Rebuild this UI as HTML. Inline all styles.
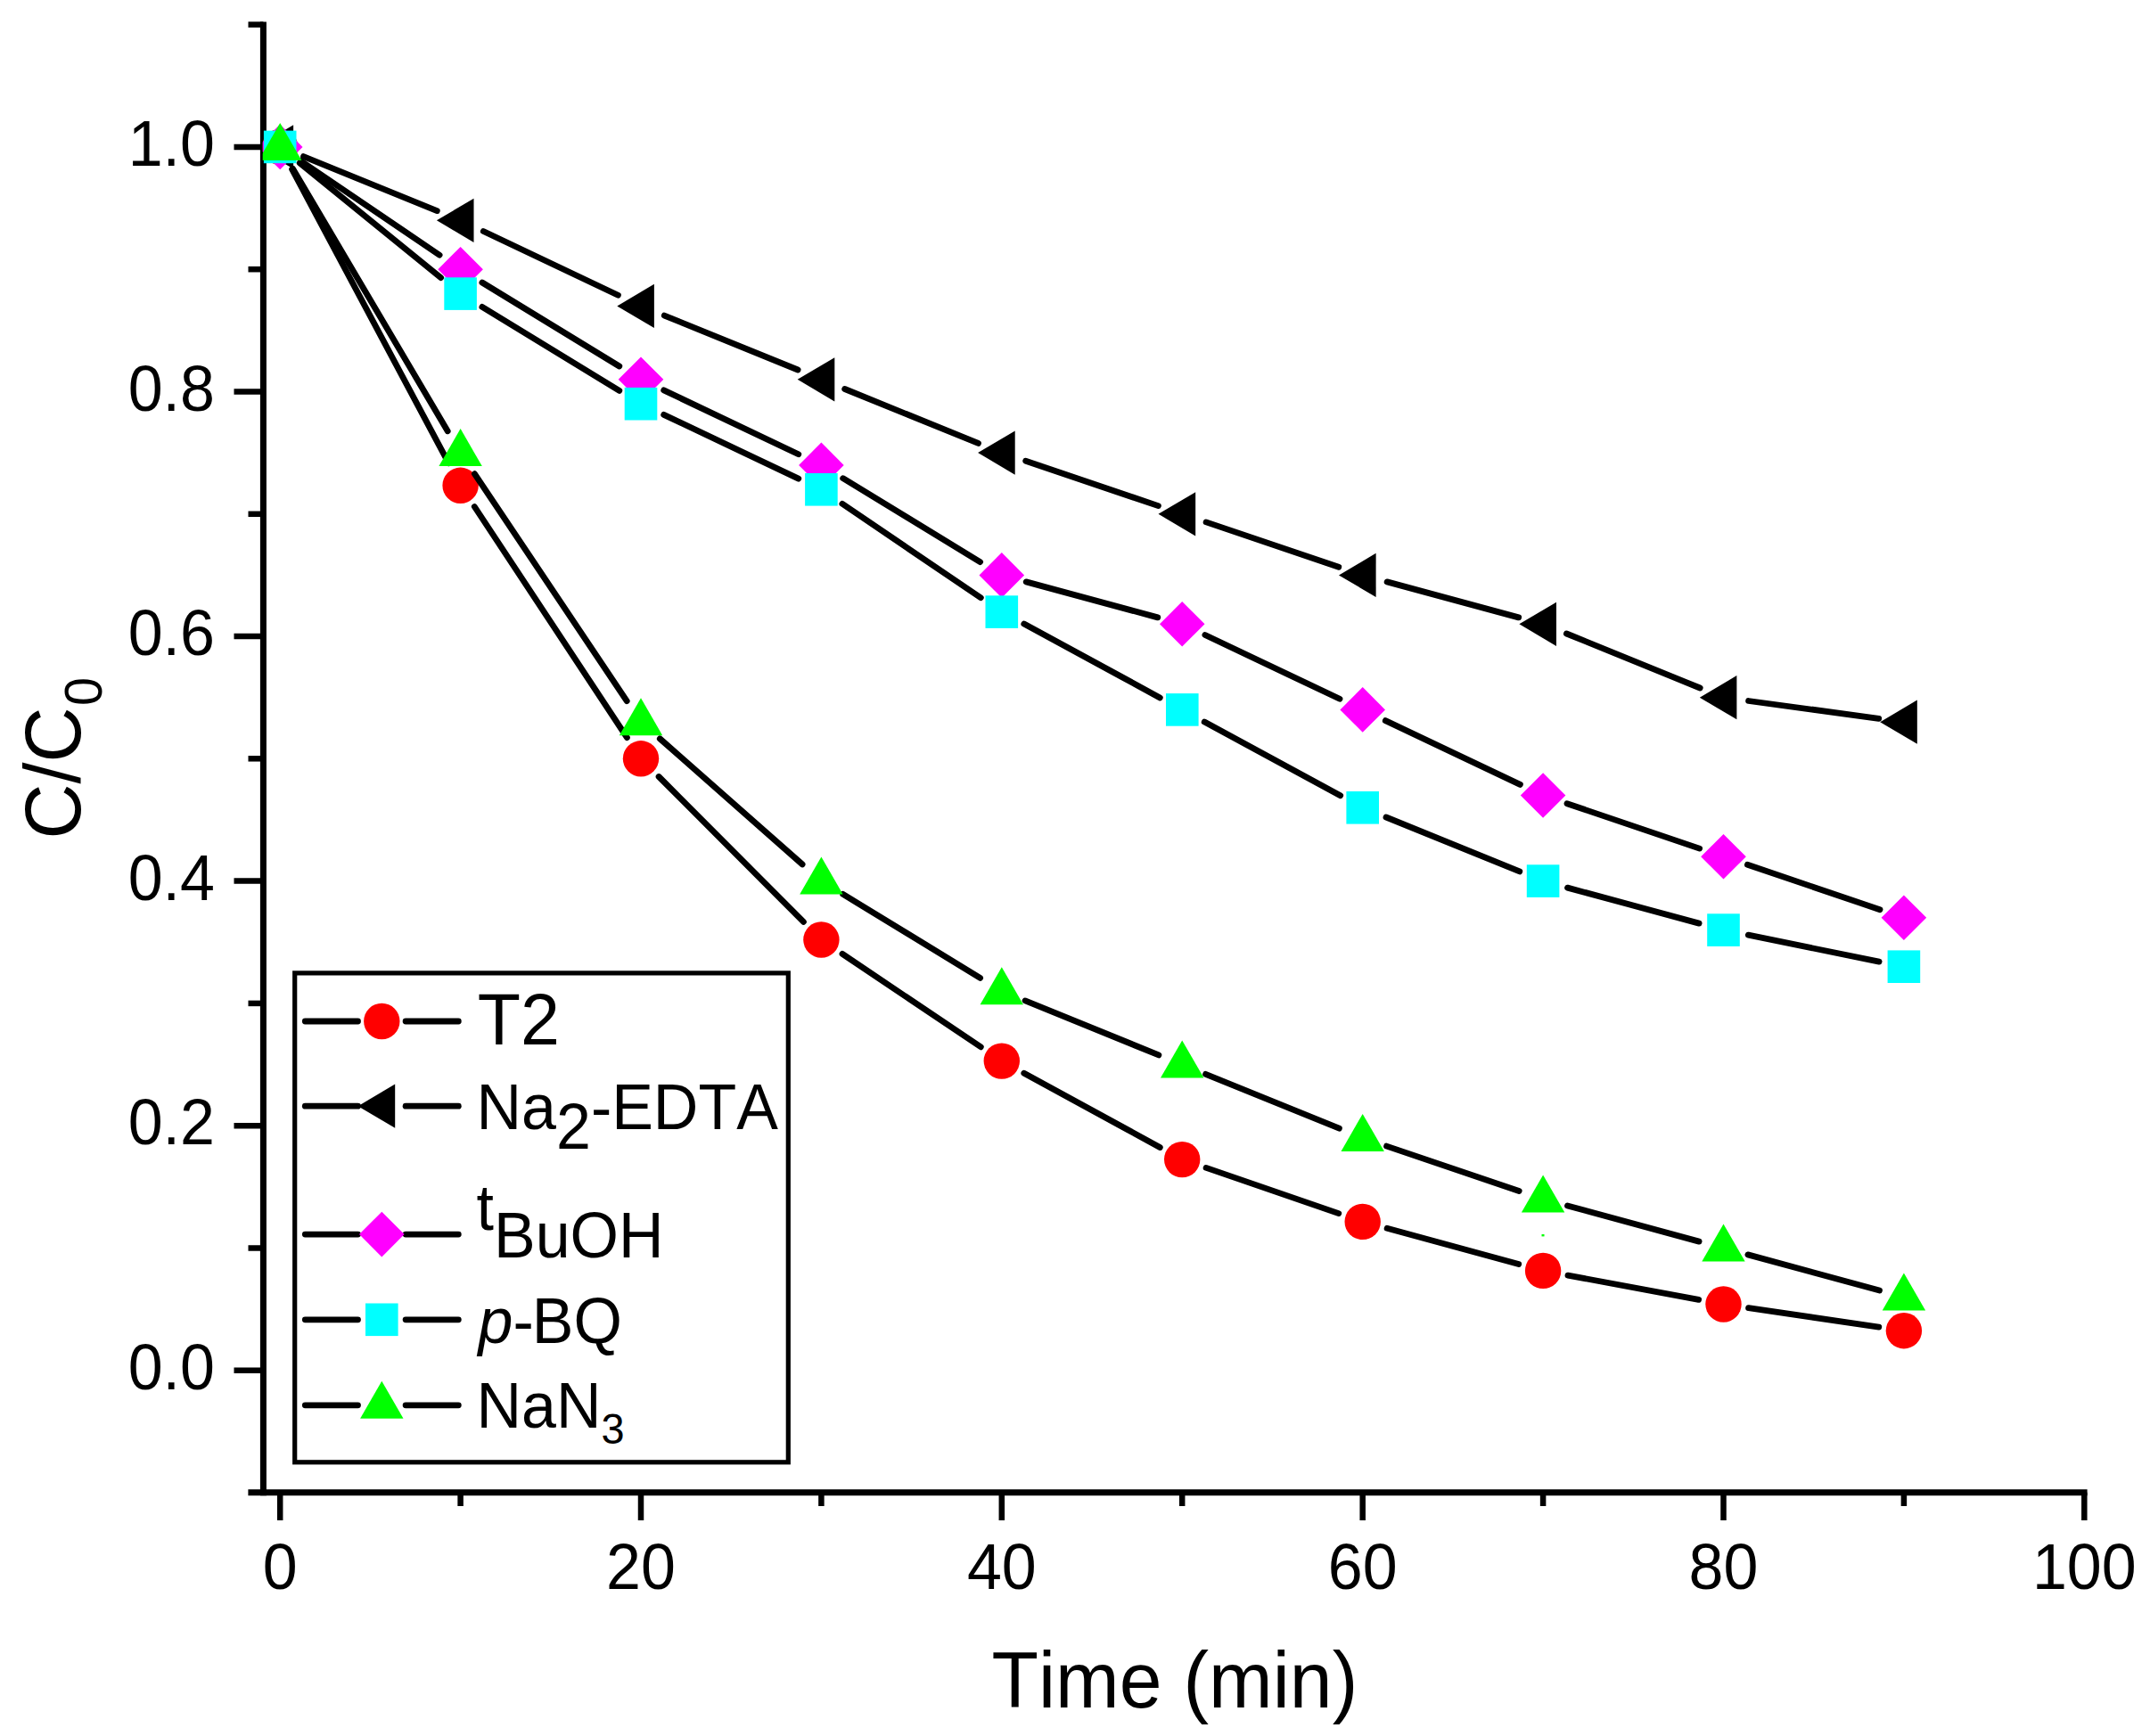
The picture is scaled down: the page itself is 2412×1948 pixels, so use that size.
<!DOCTYPE html>
<html><head><meta charset="utf-8"><title>C/C0 vs Time</title>
<style>
html,body{margin:0;padding:0;background:#fff;}
body{width:2412px;height:1948px;overflow:hidden;}
svg{display:block;}
text{font-family:"Liberation Sans",Arial,sans-serif;fill:#000;font-kerning:none;}
</style></head><body>
<svg width="2412" height="1948" viewBox="0 0 2412 1948">
<rect width="2412" height="1948" fill="#fff"/>
<g stroke="#000" stroke-width="7.0" fill="none" stroke-linecap="butt">
<line x1="295.4" y1="24.4" x2="295.4" y2="1678.2"/>
<line x1="278.4" y1="1674.7" x2="2341.6" y2="1674.7"/>
</g>
<g stroke="#000" stroke-width="6.5" fill="none" stroke-linecap="butt">
<line x1="262.5" y1="1537.8" x2="295.4" y2="1537.8"/>
<line x1="262.5" y1="1263.2" x2="295.4" y2="1263.2"/>
<line x1="262.5" y1="988.6" x2="295.4" y2="988.6"/>
<line x1="262.5" y1="714.1" x2="295.4" y2="714.1"/>
<line x1="262.5" y1="439.5" x2="295.4" y2="439.5"/>
<line x1="262.5" y1="164.9" x2="295.4" y2="164.9"/>
<line x1="278.5" y1="1400.5" x2="295.4" y2="1400.5"/>
<line x1="278.5" y1="1125.9" x2="295.4" y2="1125.9"/>
<line x1="278.5" y1="851.3" x2="295.4" y2="851.3"/>
<line x1="278.5" y1="576.8" x2="295.4" y2="576.8"/>
<line x1="278.5" y1="302.2" x2="295.4" y2="302.2"/>
<line x1="278.5" y1="27.6" x2="295.4" y2="27.6"/>
<line x1="314.2" y1="1674.7" x2="314.2" y2="1706"/>
<line x1="719.0" y1="1674.7" x2="719.0" y2="1706"/>
<line x1="1123.8" y1="1674.7" x2="1123.8" y2="1706"/>
<line x1="1528.7" y1="1674.7" x2="1528.7" y2="1706"/>
<line x1="1933.5" y1="1674.7" x2="1933.5" y2="1706"/>
<line x1="2338.3" y1="1674.7" x2="2338.3" y2="1706"/>
<line x1="516.6" y1="1674.7" x2="516.6" y2="1690"/>
<line x1="921.4" y1="1674.7" x2="921.4" y2="1690"/>
<line x1="1326.2" y1="1674.7" x2="1326.2" y2="1690"/>
<line x1="1731.1" y1="1674.7" x2="1731.1" y2="1690"/>
<line x1="2135.9" y1="1674.7" x2="2135.9" y2="1690"/>
</g>
<g font-size="70">
<text transform="translate(241,1558.8) scale(1,1.035)" text-anchor="end">0.0</text>
<text transform="translate(241,1284.2) scale(1,1.035)" text-anchor="end">0.2</text>
<text transform="translate(241,1009.6) scale(1,1.035)" text-anchor="end">0.4</text>
<text transform="translate(241,735.1) scale(1,1.035)" text-anchor="end">0.6</text>
<text transform="translate(241,460.5) scale(1,1.035)" text-anchor="end">0.8</text>
<text transform="translate(241,185.9) scale(1,1.035)" text-anchor="end">1.0</text>
<text transform="translate(314.2,1782.5) scale(1,1.035)" text-anchor="middle">0</text>
<text transform="translate(719.0,1782.5) scale(1,1.035)" text-anchor="middle">20</text>
<text transform="translate(1123.8,1782.5) scale(1,1.035)" text-anchor="middle">40</text>
<text transform="translate(1528.7,1782.5) scale(1,1.035)" text-anchor="middle">60</text>
<text transform="translate(1933.5,1782.5) scale(1,1.035)" text-anchor="middle">80</text>
<text transform="translate(2338.3,1782.5) scale(1,1.035)" text-anchor="middle">100</text>
</g>
<text transform="translate(1112.5,1915.5) scale(1,1.035)" font-size="86">Time (min)</text>
<text transform="translate(89.6,941.5) rotate(-90) scale(1,1.035)" font-size="86">C/C<tspan font-size="57.6" dx="1.4" dy="23.7">0</tspan></text>
<defs><clipPath id="plotclip"><rect x="294.7" y="24" width="2044" height="1650.7"/></clipPath></defs>
<g clip-path="url(#plotclip)">
<g stroke="#000" stroke-width="6.8" stroke-linecap="round">
<line x1="327.6" y1="190.0" x2="503.3" y2="519.7"/>
<line x1="532.3" y1="568.5" x2="703.4" y2="827.6"/>
<line x1="739.1" y1="871.5" x2="901.4" y2="1034.4"/>
<line x1="945.0" y1="1070.4" x2="1100.3" y2="1174.8"/>
<line x1="1148.8" y1="1204.2" x2="1301.3" y2="1287.5"/>
<line x1="1353.1" y1="1310.4" x2="1501.8" y2="1361.6"/>
<line x1="1556.1" y1="1378.3" x2="1703.7" y2="1418.5"/>
<line x1="1759.0" y1="1431.1" x2="1905.6" y2="1458.3"/>
<line x1="1961.6" y1="1467.6" x2="2107.8" y2="1489.1"/>
</g>
<g><circle cx="314.2" cy="164.9" r="20.2" fill="#ff0000"/><circle cx="516.6" cy="544.8" r="20.2" fill="#ff0000"/><circle cx="719.0" cy="851.3" r="20.2" fill="#ff0000"/><circle cx="921.4" cy="1054.5" r="20.2" fill="#ff0000"/><circle cx="1123.8" cy="1190.6" r="20.2" fill="#ff0000"/><circle cx="1326.2" cy="1301.1" r="20.2" fill="#ff0000"/><circle cx="1528.7" cy="1370.9" r="20.2" fill="#ff0000"/><circle cx="1731.1" cy="1425.9" r="20.2" fill="#ff0000"/><circle cx="1933.5" cy="1463.5" r="20.2" fill="#ff0000"/><circle cx="2135.9" cy="1493.2" r="20.2" fill="#ff0000"/></g>
<g stroke="#000" stroke-width="6.8" stroke-linecap="round">
<line x1="340.5" y1="175.6" x2="490.3" y2="236.6"/>
<line x1="542.3" y1="259.5" x2="693.4" y2="331.2"/>
<line x1="745.3" y1="354.1" x2="895.1" y2="415.0"/>
<line x1="947.7" y1="436.5" x2="1097.5" y2="497.4"/>
<line x1="1150.7" y1="517.2" x2="1299.4" y2="567.6"/>
<line x1="1353.1" y1="585.9" x2="1501.8" y2="636.3"/>
<line x1="1556.1" y1="652.9" x2="1703.7" y2="692.9"/>
<line x1="1757.4" y1="711.0" x2="1907.2" y2="772.0"/>
<line x1="1961.6" y1="786.5" x2="2107.7" y2="806.3"/>
</g>
<g><polygon points="329.1,140.3 329.1,189.5 287.5,164.9" fill="#000000"/><polygon points="531.5,222.7 531.5,271.9 489.9,247.3" fill="#000000"/><polygon points="733.9,318.8 733.9,368.0 692.3,343.4" fill="#000000"/><polygon points="936.3,401.2 936.3,450.4 894.7,425.8" fill="#000000"/><polygon points="1138.7,483.5 1138.7,532.7 1097.1,508.1" fill="#000000"/><polygon points="1341.2,552.2 1341.2,601.4 1299.5,576.8" fill="#000000"/><polygon points="1543.6,620.8 1543.6,670.0 1502.0,645.4" fill="#000000"/><polygon points="1746.0,675.7 1746.0,724.9 1704.4,700.3" fill="#000000"/><polygon points="1948.4,758.1 1948.4,807.3 1906.8,782.7" fill="#000000"/><polygon points="2150.8,785.6 2150.8,834.8 2109.2,810.2" fill="#000000"/></g>
<g stroke="#000" stroke-width="6.8" stroke-linecap="round">
<line x1="337.7" y1="180.8" x2="493.1" y2="286.2"/>
<line x1="540.9" y1="317.0" x2="694.8" y2="411.0"/>
<line x1="744.7" y1="437.9" x2="895.8" y2="509.7"/>
<line x1="945.7" y1="536.7" x2="1099.6" y2="630.6"/>
<line x1="1151.2" y1="652.9" x2="1298.8" y2="692.9"/>
<line x1="1351.9" y1="712.5" x2="1503.0" y2="784.3"/>
<line x1="1554.3" y1="808.6" x2="1705.4" y2="880.4"/>
<line x1="1758.0" y1="901.7" x2="1906.6" y2="952.1"/>
<line x1="1960.4" y1="970.3" x2="2109.0" y2="1020.7"/>
</g>
<g><polygon points="288.9,164.9 314.2,139.6 339.5,164.9 314.2,190.2" fill="#ff00ff"/><polygon points="491.3,302.2 516.6,276.9 541.9,302.2 516.6,327.5" fill="#ff00ff"/><polygon points="693.7,425.8 719.0,400.5 744.3,425.8 719.0,451.1" fill="#ff00ff"/><polygon points="896.1,521.9 921.4,496.6 946.7,521.9 921.4,547.2" fill="#ff00ff"/><polygon points="1098.5,645.4 1123.8,620.1 1149.1,645.4 1123.8,670.7" fill="#ff00ff"/><polygon points="1301.0,700.3 1326.2,675.0 1351.5,700.3 1326.2,725.6" fill="#ff00ff"/><polygon points="1503.4,796.4 1528.7,771.1 1554.0,796.4 1528.7,821.7" fill="#ff00ff"/><polygon points="1705.8,892.5 1731.1,867.2 1756.4,892.5 1731.1,917.8" fill="#ff00ff"/><polygon points="1908.2,961.2 1933.5,935.9 1958.8,961.2 1933.5,986.5" fill="#ff00ff"/><polygon points="2110.6,1029.8 2135.9,1004.5 2161.2,1029.8 2135.9,1055.1" fill="#ff00ff"/></g>
<g stroke="#000" stroke-width="6.8" stroke-linecap="round">
<line x1="336.2" y1="182.8" x2="494.6" y2="311.7"/>
<line x1="540.9" y1="344.4" x2="694.8" y2="438.4"/>
<line x1="744.7" y1="465.4" x2="895.8" y2="537.1"/>
<line x1="944.9" y1="565.3" x2="1100.3" y2="670.7"/>
<line x1="1148.8" y1="700.1" x2="1301.3" y2="782.9"/>
<line x1="1351.2" y1="810.0" x2="1503.7" y2="892.7"/>
<line x1="1555.0" y1="917.0" x2="1704.8" y2="977.9"/>
<line x1="1758.5" y1="996.1" x2="1906.1" y2="1036.1"/>
<line x1="1961.3" y1="1049.2" x2="2108.1" y2="1079.1"/>
</g>
<g><rect x="295.9" y="146.6" width="36.6" height="36.6" fill="#00ffff"/><rect x="498.3" y="311.3" width="36.6" height="36.6" fill="#00ffff"/><rect x="700.7" y="434.9" width="36.6" height="36.6" fill="#00ffff"/><rect x="903.1" y="531.0" width="36.6" height="36.6" fill="#00ffff"/><rect x="1105.5" y="668.3" width="36.6" height="36.6" fill="#00ffff"/><rect x="1308.0" y="778.1" width="36.6" height="36.6" fill="#00ffff"/><rect x="1510.4" y="888.0" width="36.6" height="36.6" fill="#00ffff"/><rect x="1712.8" y="970.3" width="36.6" height="36.6" fill="#00ffff"/><rect x="1915.2" y="1025.3" width="36.6" height="36.6" fill="#00ffff"/><rect x="2117.6" y="1066.4" width="36.6" height="36.6" fill="#00ffff"/></g>
<g stroke="#000" stroke-width="6.8" stroke-linecap="round">
<line x1="328.6" y1="189.4" x2="502.2" y2="483.7"/>
<line x1="532.4" y1="531.7" x2="703.2" y2="786.6"/>
<line x1="740.3" y1="828.9" x2="900.1" y2="969.9"/>
<line x1="945.7" y1="1003.4" x2="1099.6" y2="1097.4"/>
<line x1="1150.1" y1="1122.9" x2="1299.9" y2="1183.9"/>
<line x1="1352.6" y1="1205.3" x2="1502.4" y2="1266.2"/>
<line x1="1555.6" y1="1286.1" x2="1704.2" y2="1336.5"/>
<line x1="1758.5" y1="1353.0" x2="1906.1" y2="1393.1"/>
<line x1="1960.9" y1="1407.9" x2="2108.5" y2="1448.0"/>
</g>
<g><polygon points="290.0,179.9 338.4,179.9 314.2,137.9" fill="#00ff00"/><polygon points="492.4,523.1 540.8,523.1 516.6,481.1" fill="#00ff00"/><polygon points="694.8,825.2 743.2,825.2 719.0,783.2" fill="#00ff00"/><polygon points="897.2,1003.6 945.6,1003.6 921.4,961.6" fill="#00ff00"/><polygon points="1099.6,1127.2 1148.0,1127.2 1123.8,1085.2" fill="#00ff00"/><polygon points="1302.0,1209.6 1350.5,1209.6 1326.2,1167.6" fill="#00ff00"/><polygon points="1504.5,1291.9 1552.9,1291.9 1528.7,1249.9" fill="#00ff00"/><polygon points="1706.9,1360.6 1755.3,1360.6 1731.1,1318.6" fill="#00ff00"/><polygon points="1909.3,1415.5 1957.7,1415.5 1933.5,1373.5" fill="#00ff00"/><polygon points="2111.7,1470.4 2160.1,1470.4 2135.9,1428.4" fill="#00ff00"/></g>
</g>
<rect x="1729.5" y="1385" width="3" height="2.4" fill="#00ff00"/>
<rect x="330.7" y="1091.9" width="553.6" height="548.9" fill="#fff" stroke="#000" stroke-width="5.2"/>
<g stroke="#000" stroke-width="6.8" stroke-linecap="round"><line x1="342.3" y1="1146.0" x2="401.5" y2="1146.0"/><line x1="455.1" y1="1146.0" x2="514.3" y2="1146.0"/></g>
<circle cx="428.3" cy="1146.0" r="20.2" fill="#ff0000"/>
<g stroke="#000" stroke-width="6.8" stroke-linecap="round"><line x1="342.3" y1="1241.2" x2="401.5" y2="1241.2"/><line x1="455.1" y1="1241.2" x2="514.3" y2="1241.2"/></g>
<polygon points="443.2,1216.6 443.2,1265.8 401.6,1241.2" fill="#000000"/>
<g stroke="#000" stroke-width="6.8" stroke-linecap="round"><line x1="342.3" y1="1385.1" x2="401.5" y2="1385.1"/><line x1="455.1" y1="1385.1" x2="514.3" y2="1385.1"/></g>
<polygon points="403.0,1385.1 428.3,1359.8 453.6,1385.1 428.3,1410.4" fill="#ff00ff"/>
<g stroke="#000" stroke-width="6.8" stroke-linecap="round"><line x1="342.3" y1="1480.8" x2="401.5" y2="1480.8"/><line x1="455.1" y1="1480.8" x2="514.3" y2="1480.8"/></g>
<rect x="410.0" y="1462.5" width="36.6" height="36.6" fill="#00ffff"/>
<g stroke="#000" stroke-width="6.8" stroke-linecap="round"><line x1="342.3" y1="1576.8" x2="401.5" y2="1576.8"/><line x1="455.1" y1="1576.8" x2="514.3" y2="1576.8"/></g>
<polygon points="404.1,1591.8 452.5,1591.8 428.3,1549.8" fill="#00ff00"/>
<text transform="translate(535.8,1172.4) scale(1,1.035)" font-size="79">T2</text>
<text transform="translate(534.5,1267.2) scale(1,1.035)" font-size="70">Na<tspan dy="20.6">2</tspan><tspan dy="-20.6">-EDTA</tspan></text>
<text transform="translate(534.5,1411.2) scale(1,1.035)" font-size="70"><tspan dy="-29.8">t</tspan><tspan dy="29.8">BuOH</tspan></text>
<text transform="translate(534.5,1506.6) scale(1,1.035)" font-size="70"><tspan font-style="italic" dx="2">p</tspan>-<tspan dx="-2">BQ</tspan></text>
<text transform="translate(534.5,1602.4) scale(1,1.035)" font-size="70">NaN<tspan font-size="46.9" dy="16.9">3</tspan></text>
</svg></body></html>
